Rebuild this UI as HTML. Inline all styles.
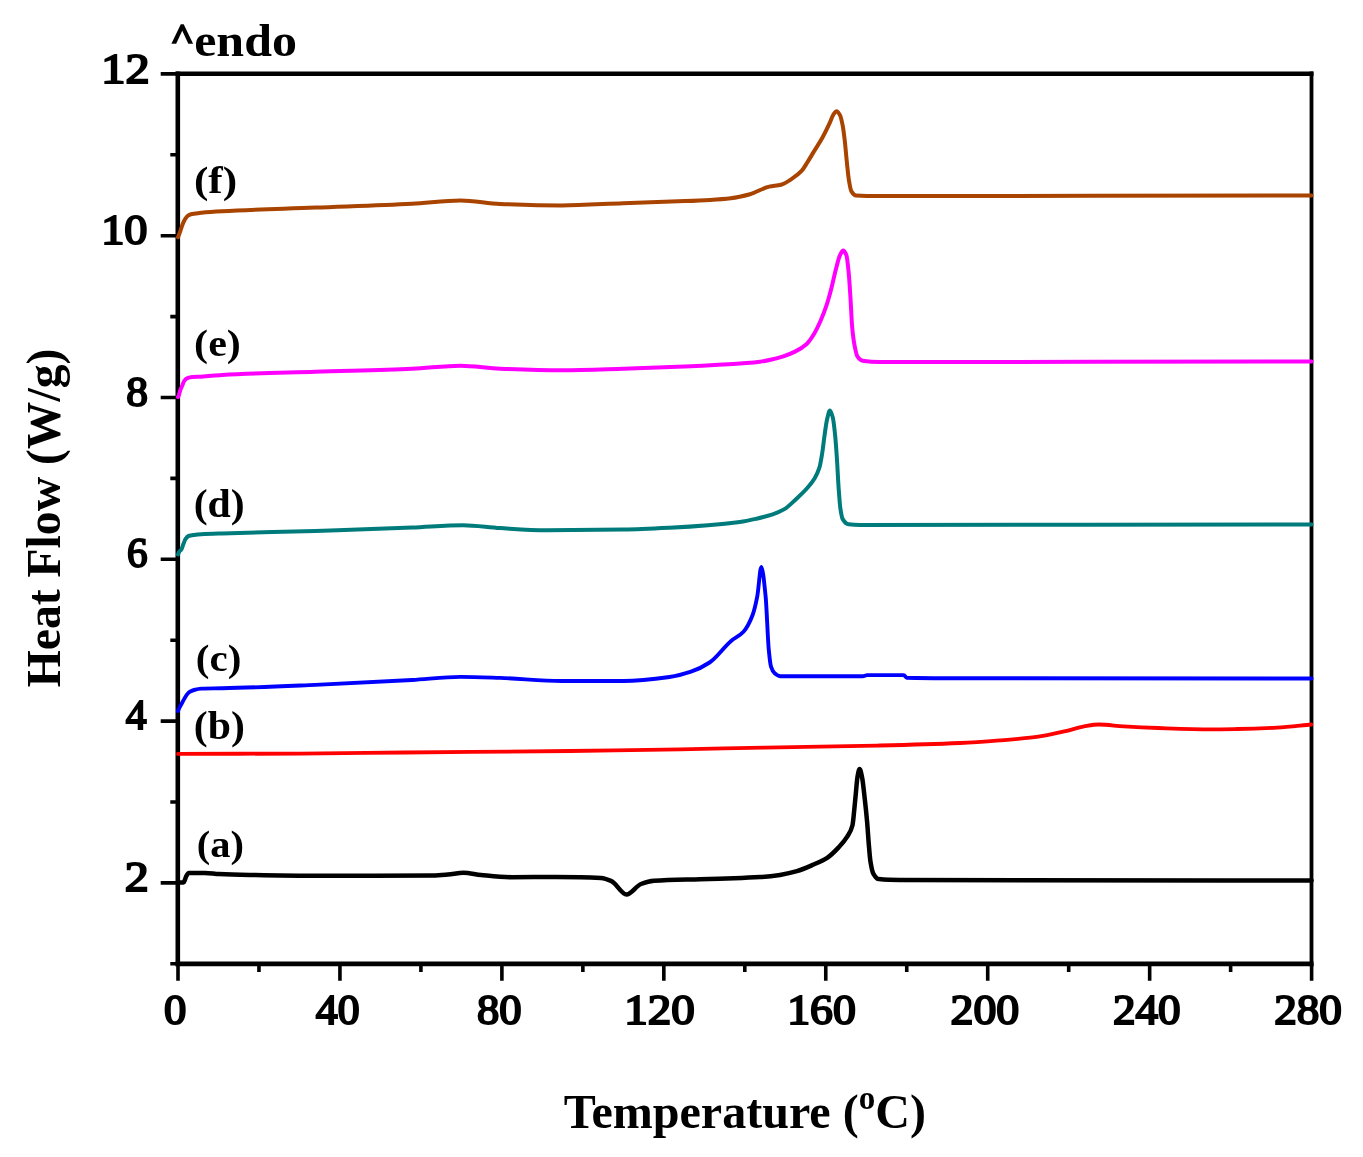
<!DOCTYPE html><html><head><meta charset="utf-8"><title>DSC thermograms</title><style>html,body{margin:0;padding:0;background:#fff;}svg{display:block;}text{font-family:"Liberation Serif","Times New Roman",serif;font-weight:bold;fill:#000;}</style></head><body>
<svg width="1363" height="1157" viewBox="0 0 1363 1157">
<rect width="1363" height="1157" fill="#fff"/>
<g>
<g stroke="#000" stroke-linecap="butt" fill="none">
<path d="M175.70,73.80H1313.50" stroke-width="4.4"/>
<path d="M175.70,963.85H1313.50" stroke-width="4.9"/>
<path d="M177.80,71.60V966.30" stroke-width="4.6"/>
<path d="M1311.50,71.60V966.30" stroke-width="3.8"/>
<path d="M178.00,963.80V980.80M258.97,963.80V972.00M339.94,963.80V980.80M420.91,963.80V972.00M501.89,963.80V980.80M582.86,963.80V972.00M663.83,963.80V980.80M744.80,963.80V972.00M825.77,963.80V980.80M906.74,963.80V972.00M987.71,963.80V980.80M1068.69,963.80V972.00M1149.66,963.80V980.80M1230.63,963.80V972.00M1311.60,963.80V980.80M178.00,963.80H170.30M178.00,882.90H160.70M178.00,802.00H170.30M178.00,721.10H160.70M178.00,640.20H170.30M178.00,559.30H160.70M178.00,478.40H170.30M178.00,397.50H160.70M178.00,316.60H170.30M178.00,235.70H160.70M178.00,154.80H170.30M178.00,73.90H160.70" stroke-width="3.60"/>
</g>
<path d="M178.00,882.60 C179.83,882.60 181.67,882.60 183.50,882.60 C184.00,882.60 184.50,880.76 185.00,879.60 C185.40,878.67 185.80,877.04 186.20,876.30 C187.07,874.69 187.93,872.90 188.80,872.90 C194.20,872.90 199.60,872.90 205.00,872.90 C209.67,872.90 214.33,873.88 219.00,874.10 C229.33,874.58 239.67,874.80 250.00,875.00 C269.67,875.38 289.33,875.80 309.00,875.80 C350.33,875.80 391.67,875.73 433.00,875.40 C438.00,875.36 443.00,874.89 448.00,874.50 C453.17,874.10 458.33,872.80 463.50,872.80 C469.33,872.80 475.17,874.46 481.00,875.00 C491.33,875.96 501.67,877.20 512.00,877.20 C526.67,877.20 541.33,877.00 556.00,877.00 C571.00,877.00 586.00,877.21 601.00,877.90 C604.50,878.06 608.00,879.55 611.50,881.10 C616.50,883.31 621.50,894.50 626.50,894.50 C631.33,894.50 636.17,885.76 641.00,884.00 C645.33,882.42 649.67,881.11 654.00,880.80 C669.33,879.71 684.67,879.66 700.00,879.20 C711.33,878.86 722.67,878.69 734.00,878.30 C742.67,878.00 751.33,877.67 760.00,877.10 C766.67,876.66 773.33,875.89 780.00,874.90 C785.63,874.07 791.27,872.79 796.90,871.20 C802.50,869.62 808.10,866.99 813.70,864.50 C818.20,862.50 822.70,860.72 827.20,857.80 C830.93,855.38 834.67,851.55 838.40,847.60 C841.40,844.43 844.40,841.29 847.40,836.40 C849.10,833.63 850.80,831.80 852.50,825.20 C853.07,823.00 853.63,815.97 854.20,810.60 C854.73,805.54 855.27,799.15 855.80,793.70 C856.37,787.91 856.93,780.04 857.50,776.90 C858.20,773.02 858.90,769.00 859.60,769.00 C860.40,769.00 861.20,773.21 862.00,776.90 C862.93,781.21 863.87,791.06 864.80,799.30 C865.57,806.07 866.33,813.11 867.10,821.80 C867.67,828.22 868.23,837.67 868.80,844.30 C869.33,850.54 869.87,857.72 870.40,861.10 C871.37,867.22 872.33,871.82 873.30,873.50 C875.17,876.74 877.03,878.91 878.90,879.10 C885.93,879.80 892.97,879.98 900.00,880.00 C1037.20,880.45 1174.40,880.33 1311.60,880.50" fill="none" stroke="#000000" stroke-width="4.50" stroke-linejoin="round" stroke-linecap="round"/>
<path d="M178.00,753.90 C218.67,753.80 259.33,753.76 300.00,753.60 C335.00,753.46 370.00,752.84 405.00,752.50 C460.00,751.96 515.00,751.64 570.00,751.00 C606.67,750.57 643.33,749.94 680.00,749.30 C708.33,748.80 736.67,748.14 765.00,747.60 C803.33,746.87 841.67,746.40 880.00,745.50 C906.67,744.88 933.33,744.18 960.00,743.00 C973.20,742.42 986.40,741.43 999.60,740.40 C1011.93,739.44 1024.27,738.51 1036.60,736.90 C1046.30,735.64 1056.00,733.29 1065.70,731.10 C1071.83,729.71 1077.97,727.44 1084.10,726.40 C1088.97,725.57 1093.83,724.50 1098.70,724.50 C1107.07,724.50 1115.43,725.91 1123.80,726.40 C1135.23,727.07 1146.67,727.62 1158.10,728.00 C1175.70,728.58 1193.30,729.30 1210.90,729.30 C1219.70,729.30 1228.50,729.14 1237.30,729.00 C1250.53,728.78 1263.77,728.35 1277.00,727.70 C1288.43,727.14 1299.87,725.57 1311.30,724.50" fill="none" stroke="#ff0000" stroke-width="3.80" stroke-linejoin="round" stroke-linecap="round"/>
<path d="M178.00,711.00 C178.50,709.87 179.00,708.61 179.50,707.60 C180.17,706.25 180.83,705.23 181.50,704.00 C182.37,702.41 183.23,700.61 184.10,699.10 C184.97,697.59 185.83,696.00 186.70,694.90 C187.67,693.68 188.63,692.51 189.60,691.90 C191.07,690.98 192.53,690.40 194.00,690.00 C196.43,689.33 198.87,688.68 201.30,688.60 C208.20,688.38 215.10,688.43 222.00,688.30 C253.10,687.71 284.20,686.22 315.30,684.90 C347.57,683.53 379.83,681.85 412.10,680.00 C428.27,679.07 444.43,676.90 460.60,676.90 C473.73,676.90 486.87,677.47 500.00,677.90 C520.53,678.58 541.07,681.00 561.60,681.00 C582.17,681.00 602.73,681.00 623.30,681.00 C638.70,681.00 654.10,679.10 669.50,677.00 C676.67,676.02 683.83,674.08 691.00,671.70 C697.20,669.64 703.40,666.58 709.60,662.50 C716.77,657.79 723.93,646.94 731.10,640.90 C735.23,637.42 739.37,636.17 743.50,631.70 C746.57,628.38 749.63,622.80 752.70,614.70 C754.23,610.65 755.77,604.21 757.30,596.20 C758.63,589.24 759.97,567.00 761.30,567.00 C762.73,567.00 764.17,582.04 765.60,596.20 C766.67,606.74 767.73,639.10 768.80,650.00 C769.53,657.50 770.27,664.46 771.00,666.70 C772.23,670.46 773.47,672.27 774.70,673.30 C776.63,674.92 778.57,676.30 780.50,676.30 C807.90,676.30 835.30,676.30 862.70,676.30 C864.17,676.30 865.63,675.10 867.10,675.10 C879.33,675.10 891.57,675.10 903.80,675.10 C904.77,675.10 905.73,677.67 906.70,677.70 C924.47,678.17 942.23,678.17 960.00,678.20 C1077.20,678.43 1194.40,678.40 1311.60,678.50" fill="none" stroke="#0000ff" stroke-width="3.90" stroke-linejoin="round" stroke-linecap="round"/>
<path d="M178.00,554.50 C178.33,553.70 178.67,552.65 179.00,552.10 C179.83,550.73 180.67,550.57 181.50,549.20 C182.13,548.16 182.77,545.69 183.40,544.10 C184.13,542.25 184.87,539.95 185.60,538.90 C186.57,537.52 187.53,536.35 188.50,536.00 C190.33,535.34 192.17,535.14 194.00,534.90 C196.43,534.58 198.87,534.34 201.30,534.20 C208.20,533.79 215.10,533.62 222.00,533.40 C253.10,532.40 284.20,531.92 315.30,531.00 C347.57,530.04 379.83,528.92 412.10,527.60 C429.07,526.91 446.03,525.20 463.00,525.20 C475.33,525.20 487.67,527.38 500.00,528.10 C515.40,528.99 530.80,530.20 546.20,530.20 C571.90,530.20 597.60,529.95 623.30,529.60 C638.70,529.39 654.10,528.59 669.50,527.80 C693.00,526.59 716.50,524.99 740.00,522.00 C745.83,521.26 751.67,519.84 757.50,518.50 C762.57,517.33 767.63,516.13 772.70,514.40 C776.60,513.07 780.50,511.41 784.40,509.10 C788.27,506.81 792.13,502.76 796.00,499.20 C799.90,495.61 803.80,492.00 807.70,487.50 C810.03,484.81 812.37,482.15 814.70,478.20 C816.27,475.55 817.83,472.77 819.40,467.70 C820.37,464.57 821.33,458.54 822.30,452.50 C823.07,447.71 823.83,440.30 824.60,435.00 C825.40,429.47 826.20,423.24 827.00,419.80 C827.97,415.64 828.93,410.50 829.90,410.50 C830.87,410.50 831.83,413.89 832.80,417.50 C833.57,420.37 834.33,427.56 835.10,435.00 C835.70,440.82 836.30,449.52 836.90,458.40 C837.47,466.78 838.03,479.60 838.60,487.50 C839.20,495.86 839.80,504.59 840.40,508.60 C841.17,513.73 841.93,517.84 842.70,519.10 C844.67,522.32 846.63,524.08 848.60,524.30 C852.40,524.72 856.20,524.90 860.00,524.90 C1010.53,524.90 1161.07,524.63 1311.60,524.50" fill="none" stroke="#007b7b" stroke-width="4.00" stroke-linejoin="round" stroke-linecap="round"/>
<path d="M178.00,397.00 C178.27,396.47 178.53,396.07 178.80,395.40 C179.23,394.31 179.67,391.96 180.10,390.70 C180.83,388.57 181.57,387.26 182.30,385.50 C182.90,384.06 183.50,381.91 184.10,381.10 C185.20,379.61 186.30,378.61 187.40,378.20 C189.00,377.60 190.60,377.23 192.20,377.10 C195.23,376.86 198.27,376.87 201.30,376.70 C208.20,376.31 215.10,375.27 222.00,374.90 C253.10,373.21 284.20,372.70 315.30,371.70 C347.57,370.67 379.83,370.17 412.10,368.80 C428.27,368.11 444.43,365.70 460.60,365.70 C473.73,365.70 486.87,368.20 500.00,368.70 C520.53,369.49 541.07,370.20 561.60,370.20 C582.17,370.20 602.73,369.30 623.30,368.70 C643.83,368.11 664.37,367.40 684.90,366.50 C705.43,365.60 725.97,364.55 746.50,363.00 C751.00,362.66 755.50,362.28 760.00,361.70 C763.90,361.20 767.80,360.37 771.70,359.50 C775.57,358.64 779.43,357.56 783.30,356.30 C787.20,355.02 791.10,353.55 795.00,351.60 C798.90,349.65 802.80,347.45 806.70,343.90 C809.03,341.78 811.37,338.25 813.70,334.50 C816.03,330.75 818.37,325.80 820.70,320.50 C822.63,316.11 824.57,311.19 826.50,305.40 C828.07,300.70 829.63,294.98 831.20,289.00 C832.77,283.02 834.33,275.10 835.90,269.20 C837.27,264.06 838.63,258.02 840.00,255.20 C841.03,253.07 842.07,250.50 843.10,250.50 C844.20,250.50 845.30,252.45 846.40,255.20 C847.17,257.12 847.93,264.99 848.70,272.70 C849.30,278.73 849.90,289.05 850.50,298.40 C851.07,307.23 851.63,321.39 852.20,327.50 C852.97,335.77 853.73,341.10 854.50,345.10 C855.50,350.31 856.50,355.31 857.50,356.70 C859.23,359.11 860.97,360.54 862.70,360.80 C868.47,361.67 874.23,362.00 880.00,362.00 C1023.87,362.00 1167.73,361.67 1311.60,361.50" fill="none" stroke="#ff00ff" stroke-width="4.00" stroke-linejoin="round" stroke-linecap="round"/>
<path d="M178.00,237.20 C178.50,235.90 179.00,234.67 179.50,233.30 C180.17,231.48 180.83,229.35 181.50,227.50 C182.17,225.65 182.83,223.66 183.50,222.20 C184.20,220.67 184.90,219.29 185.60,218.30 C186.40,217.17 187.20,216.11 188.00,215.60 C189.00,214.96 190.00,214.57 191.00,214.30 C192.00,214.03 193.00,213.87 194.00,213.70 C196.43,213.29 198.87,212.94 201.30,212.70 C208.20,212.01 215.10,211.57 222.00,211.20 C253.10,209.53 284.20,208.81 315.30,207.60 C347.57,206.34 379.83,205.48 412.10,203.80 C428.27,202.96 444.43,200.40 460.60,200.40 C473.73,200.40 486.87,203.38 500.00,203.90 C520.53,204.72 541.07,205.40 561.60,205.40 C582.17,205.40 602.73,203.92 623.30,203.20 C643.83,202.48 664.37,201.94 684.90,201.10 C693.27,200.76 701.63,200.41 710.00,199.90 C716.93,199.48 723.87,199.02 730.80,198.20 C737.20,197.44 743.60,195.95 750.00,194.20 C756.40,192.45 762.80,188.01 769.20,186.60 C773.17,185.73 777.13,185.69 781.10,184.70 C784.53,183.84 787.97,181.33 791.40,179.10 C794.80,176.89 798.20,174.55 801.60,170.90 C803.67,168.68 805.73,164.84 807.80,161.60 C809.87,158.36 811.93,154.79 814.00,151.40 C816.73,146.92 819.47,142.93 822.20,138.00 C824.60,133.67 827.00,128.70 829.40,123.60 C830.77,120.69 832.13,116.30 833.50,114.40 C834.50,113.01 835.50,111.30 836.50,111.30 C837.70,111.30 838.90,113.21 840.10,115.40 C840.97,116.98 841.83,121.19 842.70,125.70 C843.40,129.34 844.10,135.11 844.80,141.10 C845.47,146.81 846.13,155.28 846.80,161.60 C847.50,168.24 848.20,175.88 848.90,180.10 C849.73,185.13 850.57,190.09 851.40,191.40 C852.97,193.86 854.53,195.42 856.10,195.50 C864.07,195.91 872.03,196.00 880.00,196.00 C1023.87,196.00 1167.73,195.67 1311.60,195.50" fill="none" stroke="#a84300" stroke-width="4.00" stroke-linejoin="round" stroke-linecap="round"/>
<text x="170.19" y="56.40" font-size="46.00" textLength="126.76" lengthAdjust="spacingAndGlyphs"><tspan font-size="38" dy="-6.9" stroke="#000" stroke-width="1.6">^</tspan><tspan dy="6.9">endo</tspan></text>
<text x="101.33" y="82.64" font-size="42.20" textLength="48.27" lengthAdjust="spacingAndGlyphs" style="font-weight:normal" stroke="#000" stroke-width="2.0">12</text>
<text x="101.17" y="244.48" font-size="42.20" textLength="46.31" lengthAdjust="spacingAndGlyphs" style="font-weight:normal" stroke="#000" stroke-width="2.0">10</text>
<text x="126.19" y="405.77" font-size="42.20" textLength="21.73" lengthAdjust="spacingAndGlyphs" style="font-weight:normal" stroke="#000" stroke-width="2.0">8</text>
<text x="126.97" y="567.10" font-size="42.20" textLength="20.61" lengthAdjust="spacingAndGlyphs" style="font-weight:normal" stroke="#000" stroke-width="2.0">6</text>
<text x="125.80" y="729.47" font-size="42.20" textLength="20.80" lengthAdjust="spacingAndGlyphs" style="font-weight:normal" stroke="#000" stroke-width="2.0">4</text>
<text x="124.67" y="890.51" font-size="42.20" textLength="23.98" lengthAdjust="spacingAndGlyphs" style="font-weight:normal" stroke="#000" stroke-width="2.0">2</text>
<text x="164.05" y="1023.73" font-size="42.20" textLength="22.32" lengthAdjust="spacingAndGlyphs" style="font-weight:normal" stroke="#000" stroke-width="2.0">0</text>
<text x="315.83" y="1023.73" font-size="42.20" textLength="43.71" lengthAdjust="spacingAndGlyphs" style="font-weight:normal" stroke="#000" stroke-width="2.0">40</text>
<text x="477.03" y="1023.56" font-size="42.20" textLength="44.61" lengthAdjust="spacingAndGlyphs" style="font-weight:normal" stroke="#000" stroke-width="2.0">80</text>
<text x="624.36" y="1023.73" font-size="42.20" textLength="70.52" lengthAdjust="spacingAndGlyphs" style="font-weight:normal" stroke="#000" stroke-width="2.0">120</text>
<text x="787.23" y="1023.73" font-size="42.20" textLength="68.70" lengthAdjust="spacingAndGlyphs" style="font-weight:normal" stroke="#000" stroke-width="2.0">160</text>
<text x="950.50" y="1023.56" font-size="42.20" textLength="68.77" lengthAdjust="spacingAndGlyphs" style="font-weight:normal" stroke="#000" stroke-width="2.0">200</text>
<text x="1112.97" y="1023.73" font-size="42.20" textLength="67.64" lengthAdjust="spacingAndGlyphs" style="font-weight:normal" stroke="#000" stroke-width="2.0">240</text>
<text x="1274.19" y="1023.73" font-size="42.20" textLength="67.70" lengthAdjust="spacingAndGlyphs" style="font-weight:normal" stroke="#000" stroke-width="2.0">280</text>
<text x="563.86" y="1127.70" font-size="49.50" textLength="362.02" lengthAdjust="spacingAndGlyphs">Temperature (<tspan font-size="34" dy="-18.3">o</tspan><tspan dy="18.3">C)</tspan></text>
<text transform="translate(60.40,687.24) rotate(-90)" font-size="47.80" textLength="338.61" lengthAdjust="spacingAndGlyphs">Heat Flow (W/g)</text>
<text x="193.92" y="192.72" font-size="38.98" textLength="43.22" lengthAdjust="spacingAndGlyphs">(f)</text>
<text x="194.12" y="356.18" font-size="38.67" textLength="46.72" lengthAdjust="spacingAndGlyphs">(e)</text>
<text x="193.65" y="516.91" font-size="40.82" textLength="51.08" lengthAdjust="spacingAndGlyphs">(d)</text>
<text x="195.84" y="670.80" font-size="36.95" textLength="45.56" lengthAdjust="spacingAndGlyphs">(c)</text>
<text x="193.85" y="738.91" font-size="41.01" textLength="51.05" lengthAdjust="spacingAndGlyphs">(b)</text>
<text x="196.78" y="857.12" font-size="38.21" textLength="47.20" lengthAdjust="spacingAndGlyphs">(a)</text>
</g>
</svg></body></html>
